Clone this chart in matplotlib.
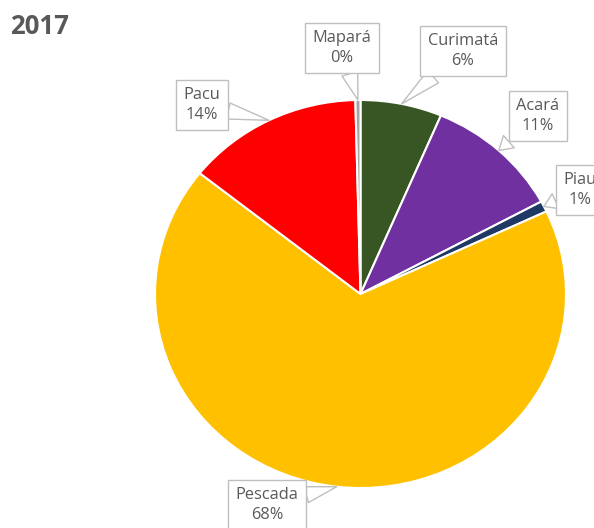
import numpy as np
import matplotlib.pyplot as plt

# data, clockwise from 12 o'clock
species = ['Curimatá', 'Acará', 'Piau', 'Pescada', 'Pacu', 'Mapará']
shares = [6.4, 10.7, 0.9, 67.7, 13.9, 0.4]
colors = ['#375623', '#7030A0', '#1F3864', '#FFC000', '#FF0000', '#A5A5A5']
# label box centres in image pixels (x, y from top)
label_pos = [(463, 51), (538, 116), (580, 190), (267, 505), (202, 105), (342, 48)]

W, H = 594, 528
plt.rcParams['font.family'] = ['Open Sans', 'DejaVu Sans']
fig = plt.figure(figsize=(W / 100, H / 100), dpi=100)

# the pie in the reference is a bit wider than tall
ax = fig.add_axes([155 / W, (H - 488) / H, 411 / W, 388 / H])
wedges, _ = ax.pie(shares, colors=colors, startangle=90, counterclock=False,
                   radius=1, wedgeprops=dict(edgecolor='white', linewidth=1.5))
ax.set_aspect('auto')
ax.set_xlim(-1, 1)
ax.set_ylim(-1, 1)
ax.axis('off')

for w, name, val, (px, py) in zip(wedges, species, shares, label_pos):
    ang = np.deg2rad((w.theta1 + w.theta2) / 2)
    ax.annotate(f'{name}\n{val:.0f}%', xy=(np.cos(ang), np.sin(ang)), xycoords='data',
                xytext=(px, H - py), textcoords='figure pixels',
                ha='center', va='center', fontsize=11.8, color='#595959', linespacing=1.3,
                bbox=dict(boxstyle='square,pad=0.45', fc='white', ec='#BFBFBF', lw=1),
                arrowprops=dict(arrowstyle='wedge,tail_width=1.0,shrink_factor=0.5',
                                fc='white', ec='#BFBFBF', lw=1, shrinkA=0, shrinkB=0),
                annotation_clip=False)

fig.text(10 / W, 1 - 26 / H, '2017', fontsize=18.5, fontweight='bold', color='#595959',
         ha='left', va='center')

fig.savefig('out.png', dpi=100)
